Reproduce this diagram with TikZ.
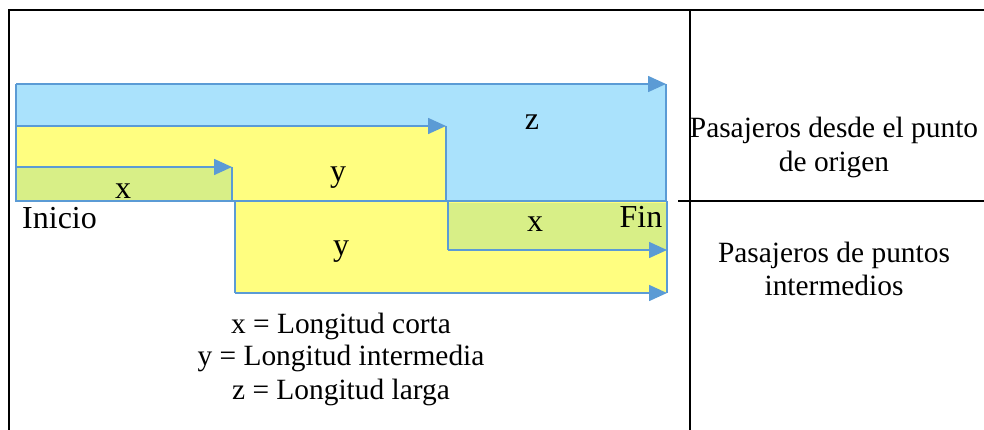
\documentclass[tikz,border=0pt]{standalone}
\usepackage{fontspec}
\setmainfont{Liberation Serif}
\usetikzlibrary{arrows.meta}
\definecolor{lineblue}{RGB}{91,155,213}
\definecolor{fillblue}{RGB}{170,226,252}
\definecolor{fillyellow}{RGB}{255,254,128}
\definecolor{fillgreen}{RGB}{216,239,135}
\tikzset{
  edge/.style={draw=lineblue, line width=1.6pt},
  flow/.style={edge, -{Triangle[length=18pt,width=16pt]}},
  frame/.style={draw=black, line width=2pt},
  lbl/.style={inner sep=0pt, anchor=base, font=\fontsize{32pt}{36pt}\selectfont},
  txt/.style={inner sep=0pt, anchor=base, font=\fontsize{29.4pt}{33pt}\selectfont},
}
\begin{document}
\begin{tikzpicture}[x=1pt,y=-1pt]
\useasboundingbox (0,0) rectangle (984,430);
% frame
\draw[frame] (8,10) -- (984,10);
\draw[frame] (9,10) -- (9,430);
\draw[frame] (690,10) -- (690,430);
\draw[frame] (678,201) -- (984,201);
% fills
\fill[fillblue] (16,84) rectangle (666,201);
\fill[fillyellow] (16,126) rectangle (446,201);
\fill[fillgreen] (16,167) rectangle (232,201);
\fill[fillyellow] (235,201) rectangle (667,293);
\fill[fillgreen] (448,203) rectangle (667,250);
% outlines and arrows
\coordinate (a0) at (16,84);  \coordinate (a1) at (666,84);
\coordinate (b0) at (16,126); \coordinate (b1) at (446,126);
\coordinate (c0) at (16,167); \coordinate (c1) at (232,167);
\coordinate (d0) at (235,293); \coordinate (d1) at (667,293);
\coordinate (e0) at (448,250); \coordinate (e1) at (667,250);
\draw[edge] (16,84) -- (16,201) -- (666,201) -- (666,84);
\draw[edge] (b1) -- (446,201);
\draw[edge] (c1) -- (232,201);
\draw[edge] (235,201) -- (d0);
\draw[edge] (667,201) -- (d1);
\draw[edge] (448,202) -- (e0);
\draw[flow] (a0) -- (a1);
\draw[flow] (b0) -- (b1);
\draw[flow] (c0) -- (c1);
\draw[flow] (d0) -- (d1);
\draw[flow] (e0) -- (e1);
% labels
\node[lbl] (lx1) at (123,199) {x};
\node[lbl] (ly1) at (338,182) {y};
\node[lbl] (lz) at (532,130) {z};
\node[lbl, anchor=base west] (ini) at (22,229) {Inicio};
\node[lbl] (ly2) at (341,255) {y};
\node[lbl] (lx2) at (535,232) {x};
\node[lbl] (fin) at (641,228) {Fin};
% legend
\node[txt] (k1) at (341,333) {x = Longitud corta};
\node[txt] (k2) at (341,365) {y = Longitud intermedia};
\node[txt] (k3) at (341,399) {z = Longitud larga};
% right column
\node[txt] (r1) at (834,138) {Pasajeros desde el punto};
\node[txt] (r2) at (834,172) {de origen};
\node[txt] (r3) at (834,262) {Pasajeros de puntos};
\node[txt] (r4) at (834,295) {intermedios};
\end{tikzpicture}
\end{document}
